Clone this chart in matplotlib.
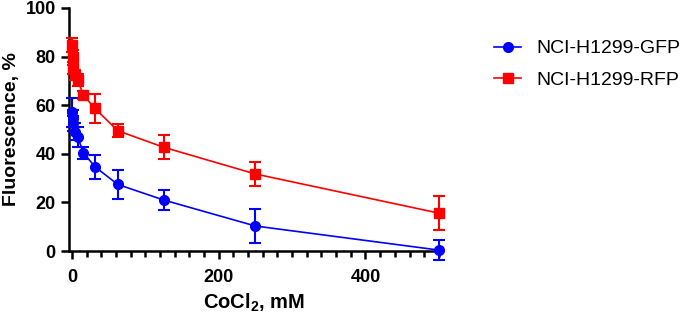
import numpy as np
import matplotlib
matplotlib.use("Agg")
import matplotlib.pyplot as plt
from matplotlib.lines import Line2D

plt.rcParams['font.family'] = ['Liberation Sans', 'DejaVu Sans']
plt.rcParams['mathtext.fontset'] = 'custom'
plt.rcParams['mathtext.rm'] = 'Liberation Sans'
plt.rcParams['mathtext.bf'] = 'Liberation Sans:bold'

# CoCl2 concentration, mM
conc = [0, 0.98, 1.95, 3.9, 7.8, 15.6, 31.25, 62.5, 125, 250, 500]

# fluorescence, %
gfp = [57.0, 54.6, 52.5, 49.0, 47.0, 40.5, 34.7, 27.4, 21.0, 10.3, 0.4]
gfp_err = [6.0, 3.5, 3.0, 3.5, 4.0, 2.5, 5.0, 6.0, 4.0, 7.0, 4.0]
rfp = [84.8, 79.7, 75.2, 72.4, 70.4, 64.2, 58.7, 49.5, 42.7, 31.7, 15.6]
rfp_err = [3.0, 3.0, 2.5, 2.0, 2.5, 1.5, 6.0, 2.7, 5.0, 5.0, 7.0]

labels = ['NCI-H1299-GFP', 'NCI-H1299-RFP']
colors = ['#0000FF', '#FF0000']
markers = ['o', 's']

fig = plt.figure(figsize=(6.85, 3.19), dpi=100)
ax = fig.add_axes([0.1007, 0.213, 0.54, 0.762])

for y, e, c, m in [(gfp, gfp_err, colors[0], markers[0]),
                   (rfp, rfp_err, colors[1], markers[1])]:
    ax.errorbar(conc, y, yerr=e, color=c, marker=m, ms=7,
                lw=1.2, elinewidth=1.5, capsize=4, capthick=1.5,
                clip_on=False, zorder=3)

ax.set_xlim(-4, 500)
ax.set_ylim(0, 100)
ax.set_xticks([0, 200, 400])
ax.set_xticks(np.arange(0, 501, 20), minor=True)
ax.set_yticks([0, 20, 40, 60, 80, 100])

for s in ['top', 'right']:
    ax.spines[s].set_visible(False)
for s in ['left', 'bottom']:
    ax.spines[s].set_linewidth(1.8)

ax.tick_params(axis='both', which='major', direction='out', length=6,
               width=1.8, labelsize=13)
ax.tick_params(axis='x', which='major', pad=7)
ax.tick_params(axis='x', which='minor', direction='out', length=4, width=1.8)
for t in ax.get_xticklabels() + ax.get_yticklabels():
    t.set_fontweight('bold')

ax.set_xlabel(r'CoCl$_\mathbf{2}$, mM', fontsize=14.5, fontweight='bold',
              labelpad=4)
ax.set_ylabel('Fluorescence, %', fontsize=14, fontweight='bold')

handles = [Line2D([], [], color=c, marker=m, ms=7, lw=1.2)
           for c, m in zip(colors, markers)]
fig.legend(handles, labels, loc='upper left', bbox_to_anchor=(0.696, 0.93),
           frameon=False, fontsize=14, handlelength=1.4, labelspacing=0.72,
           handletextpad=0.75)

fig.savefig('out.png', dpi=100)
